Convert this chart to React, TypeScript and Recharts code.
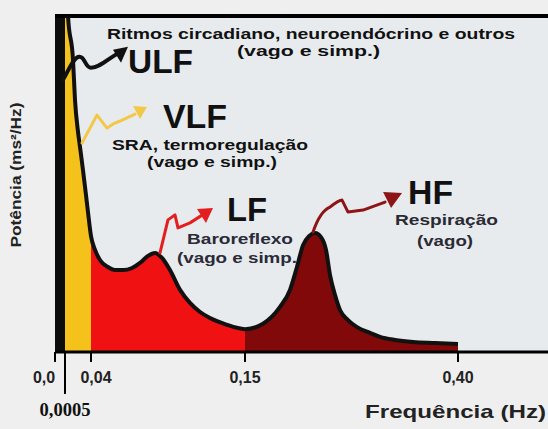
import {
  ComposedChart,
  Area,
  Line,
  XAxis,
  YAxis,
  CartesianGrid,
  ReferenceLine,
  ReferenceDot,
} from 'recharts'

// Espectro de potência (potência em unidades arbitrárias, 100 = topo)
const freqHz = [
  0, 0.0005, 0.0051, 0.0127, 0.0157, 0.0203, 0.0233, 0.0278, 0.0324, 0.0354,
  0.04, 0.0429, 0.0464, 0.0521, 0.0571, 0.0629, 0.0693, 0.075, 0.0807, 0.0857,
  0.0907, 0.0964, 0.1036, 0.1107, 0.1179, 0.125, 0.1357, 0.15,
  0.1711, 0.1911, 0.2028, 0.211, 0.2181, 0.2251, 0.2322, 0.2392, 0.2451, 0.2498,
  0.2556, 0.2615, 0.2709, 0.2815, 0.2967, 0.3085, 0.3261, 0.3472, 0.373, 0.4,
]
const power = [
  200, 125, 100, 86.9, 75, 65.5, 61, 54.2, 46.7, 41.7,
  34.5, 30.4, 27.4, 25.3, 24.4, 24.4, 25, 26.5, 28.6, 29.5,
  28, 24.4, 18.5, 14.6, 11.9, 10.1, 8.3, 6.8,
  8.4, 13.4, 18.5, 25.3, 31.8, 34.5, 35.4, 34.2, 30.4, 22.9,
  17, 12.5, 9.5, 7.4, 5.7, 4.5, 3.6, 3, 2.7, 2.4,
]

// faixas: ULF, VLF, LF, HF
const bandNames = ['ulf', 'vlf', 'lf', 'hf']
const bandEdges = [0, 0.0005, 0.04, 0.15, 0.4]

const tickFreqs = [0, 0.0005, 0.04, 0.15, 0.4]
const tickLabels = ['0,0', '0,0005', '0,04', '0,15', '0,40']

// o eixo da figura é esquemático (não linear): cada frequência marcada
// fica numa posição fixa do eixo, interpolando entre elas
const AXIS_STOPS = [0, 10, 36, 190, 403]
const AXIS_END = 493

function warp(f: number) {
  for (let i = 1; i < tickFreqs.length; i++) {
    if (f <= tickFreqs[i]) {
      const t = (f - tickFreqs[i - 1]) / (tickFreqs[i] - tickFreqs[i - 1])
      return AXIS_STOPS[i - 1] + t * (AXIS_STOPS[i] - AXIS_STOPS[i - 1])
    }
  }
  const n = tickFreqs.length - 1
  const slope = (AXIS_STOPS[n] - AXIS_STOPS[n - 1]) / (tickFreqs[n] - tickFreqs[n - 1])
  return AXIS_STOPS[n] + (f - tickFreqs[n]) * slope
}

const rows = freqHz.map((f, i) => {
  const row: Record<string, number | null> = { x: warp(f), p: power[i] }
  bandNames.forEach((b, k) => {
    row[b] = f >= bandEdges[k] && f <= bandEdges[k + 1] ? power[i] : null
  })
  return row
})

const bandColors: Record<string, string> = {
  ulf: '#0c0c0c',
  vlf: '#f5c21c',
  lf: '#f01212',
  hf: '#820909',
}

const SANS = 'Liberation Sans, Arial, sans-serif'

function FreqTick(props: any) {
  const { x, y, payload } = props
  const idx = tickFreqs.findIndex(f => Math.abs(warp(f) - payload.value) < 0.01)
  const label = tickLabels[idx]
  if (idx === 1) {
    return (
      <g>
        <line x1={x} y1={y} x2={x} y2={y + 42} stroke="#000" strokeWidth={2} />
        <text
          x={x}
          y={y + 64}
          textAnchor="middle"
          fontFamily="Liberation Serif, Times New Roman, serif"
          fontWeight="bold"
          fontSize={19}
          fill="#111"
          textLength={51}
          lengthAdjust="spacingAndGlyphs"
        >
          {label}
        </text>
      </g>
    )
  }
  const dx = idx === 0 ? -11 : idx === 2 ? 5 : 0
  return (
    <g>
      <line x1={x} y1={y} x2={x} y2={y + 10} stroke="#000" strokeWidth={2} />
      <text
        x={x + dx}
        y={y + 31}
        textAnchor="middle"
        fontFamily={SANS}
        fontWeight="bold"
        fontSize={16}
        fill="#222"
      >
        {label}
      </text>
    </g>
  )
}

function Squiggle({ cx, cy, kind }: { cx: number; cy: number; kind: string }) {
  let d = ''
  let head = ''
  let color = '#111'
  let w = 3
  if (kind === 'ulf') {
    d = 'M0,0 C6,-10 10,-22 16,-23 C22,-24 22,-12 28,-12 C36,-12 44,-20 54,-26'
    head = '65,-33 50,-30 58,-17'
    w = 4
  } else if (kind === 'vlf') {
    d = 'M2,-4 L17,-32 L27,-19 Q33,-24 40,-26 L55,-33'
    head = '67,-40 53,-41 60,-28'
    color = '#f3c848'
  } else if (kind === 'lf') {
    d = 'M5,0 L13,-33 L20,-38 L23,-25 L35,-30 L46,-37'
    head = '58,-45 42,-44 51,-30'
    color = '#e31e1e'
  } else {
    d = 'M-2,-1 Q5,-22 15,-26 Q24,-33 27,-33 L33,-21 L48,-23 L70,-31'
    head = '87,-40 68,-41 76,-25'
    color = '#8e1515'
  }
  return (
    <g transform={`translate(${cx},${cy})`}>
      <path d={d} fill="none" stroke={color} strokeWidth={w} strokeLinejoin="round" strokeLinecap="round" />
      <polygon points={head} fill={color} />
    </g>
  )
}

function Note({ x, y, size, len, children, fill = '#111' }: any) {
  return (
    <text
      x={x}
      y={y}
      fontFamily={SANS}
      fontWeight="bold"
      fontSize={size}
      fill={fill}
      textLength={len}
      lengthAdjust="spacingAndGlyphs"
    >
      {children}
    </text>
  )
}

export default function App() {
  return (
    <div style={{ position: 'absolute', left: 0, top: 0, width: 548, height: 429, background: '#efefef' }}>
      <ComposedChart
        width={548}
        height={429}
        data={rows}
        margin={{ top: 16, right: 0, bottom: 0, left: 55 }}
      >
        <CartesianGrid horizontal={false} vertical={false} fill="#e8ebee" />
        <XAxis
          type="number"
          dataKey="x"
          domain={[0, AXIS_END]}
          ticks={tickFreqs.map(warp)}
          interval={0}
          tick={(p: any) => <FreqTick {...p} />}
          tickLine={false}
          tickSize={0}
          tickMargin={0}
          height={77}
          axisLine={{ stroke: '#000', strokeWidth: 3 }}
          allowDataOverflow
        />
        <YAxis type="number" domain={[0, 100]} hide width={0} allowDataOverflow />
        {bandNames.map(b => (
          <Area
            key={b}
            type="monotone"
            dataKey={b}
            stroke="none"
            fill={bandColors[b]}
            fillOpacity={1}
            baseValue={0}
            isAnimationActive={false}
          />
        ))}
        <Line
          type="monotone"
          dataKey="p"
          stroke="#111"
          strokeWidth={4}
          dot={false}
          activeDot={false}
          isAnimationActive={false}
        />
        <ReferenceLine y={100} stroke="#000" strokeWidth={4} />
        <ReferenceDot x={warp(0.0004)} y={81} ifOverflow="visible" shape={(p: any) => <Squiggle cx={p.cx} cy={p.cy} kind="ulf" />} />
        <ReferenceDot x={warp(0.0233)} y={61} ifOverflow="visible" shape={(p: any) => <Squiggle cx={p.cx} cy={p.cy} kind="vlf" />} />
        <ReferenceDot x={warp(0.0857)} y={29.5} ifOverflow="visible" shape={(p: any) => <Squiggle cx={p.cx} cy={p.cy} kind="lf" />} />
        <ReferenceDot x={warp(0.2322)} y={35.4} ifOverflow="visible" shape={(p: any) => <Squiggle cx={p.cx} cy={p.cy} kind="hf" />} />
        <g>
          <Note x={107} y={39} size={15} len={408}>Ritmos circadiano, neuroendócrino e outros</Note>
          <Note x={237} y={56} size={15} len={143}>(vago e simp.)</Note>
          <Note x={128} y={73} size={33} len={65}>ULF</Note>
          <Note x={163} y={128} size={34} len={64}>VLF</Note>
          <Note x={112} y={150} size={15} len={196}>SRA, termoregulação</Note>
          <Note x={147} y={167} size={15} len={130}>(vago e simp.)</Note>
          <Note x={227} y={221} size={34} len={40}>LF</Note>
          <Note x={187} y={244} size={15} len={106} fill="#2a2a38">Baroreflexo</Note>
          <Note x={177} y={263} size={15} len={120} fill="#2a2a38">(vago e simp.</Note>
          <Note x={408} y={204} size={34} len={45}>HF</Note>
          <Note x={395} y={225} size={15} len={103} fill="#2a2a33">Respiração</Note>
          <Note x={417} y={246} size={15} len={56} fill="#2a2a33">(vago)</Note>
          <text
            transform="translate(21,175) rotate(-90)"
            textAnchor="middle"
            fontFamily={SANS}
            fontWeight="bold"
            fontSize={15}
            fill="#222"
            textLength={145}
            lengthAdjust="spacingAndGlyphs"
          >
            Potência (ms²/Hz)
          </text>
          <Note x={365} y={418} size={19} len={181} fill="#222">Frequência (Hz)</Note>
        </g>
      </ComposedChart>
    </div>
  )
}
